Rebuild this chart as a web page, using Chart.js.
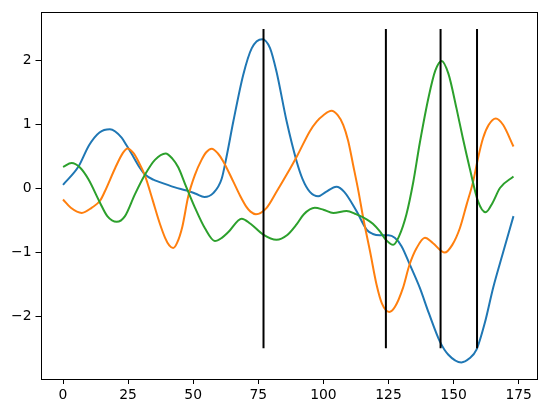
<!DOCTYPE html>
<html>
<head>
<meta charset="utf-8">
<script src="https://cdn.jsdelivr.net/npm/chart.js@4.4.1/dist/chart.umd.min.js"></script>
<style>
  html, body { margin: 0; padding: 0; background: #fff; }
  #wrap { width: 546px; height: 413px; }
</style>
</head>
<body>
<div id="wrap"><canvas id="c" width="546" height="413"></canvas></div>
<script>
// series as [x, y]
const BLUE = [
  [0, 0.06], [6, 0.35], [10, 0.68], [14, 0.88], [18, 0.93], [22.5, 0.8], [24.5, 0.67],
  [27, 0.5], [29.6, 0.32], [31.5, 0.22], [34.7, 0.14], [36.6, 0.11], [43, 0.02],
  [47.5, -0.03], [51, -0.08], [54.3, -0.13], [57.7, -0.07], [60.9, 0.15], [62.8, 0.5],
  [65.4, 1.05], [69.2, 1.78], [72.5, 2.2], [76.5, 2.34], [79.5, 2.2], [82, 1.83],
  [85.9, 1.05], [89.7, 0.43], [92, 0.15], [94.8, -0.05], [98, -0.12], [101, -0.05],
  [105, 0.03], [108, -0.05], [112.7, -0.35], [116.6, -0.64], [119, -0.71], [121.7, -0.73],
  [125, -0.73], [127.4, -0.77], [130, -0.9], [133.2, -1.19], [137, -1.55], [140.5, -1.95],
  [144.7, -2.39], [148, -2.6], [153, -2.72], [156, -2.66], [158.8, -2.52], [162, -2.1],
  [165.2, -1.55], [169, -1.0], [173, -0.43],
];
const ORANGE = [
  [0, -0.17], [3, -0.3], [7.2, -0.38], [11, -0.3], [14.2, -0.19], [16.1, -0.04], [20, 0.32],
  [23, 0.56], [24.8, 0.63], [27, 0.56], [28.9, 0.43], [31.5, 0.2], [33.4, -0.04],
  [35.3, -0.3], [37.2, -0.55], [39.2, -0.77], [40.8, -0.89], [42.3, -0.93], [43.8, -0.85],
  [45.8, -0.6], [48.1, -0.12], [50.7, 0.22], [53.2, 0.45], [55, 0.57], [57.1, 0.625],
  [59.5, 0.55], [61.5, 0.43], [65.4, 0.11], [68, -0.11], [70.5, -0.29], [72, -0.36],
  [74.1, -0.4], [78.2, -0.3], [82, -0.05], [85.9, 0.22], [90, 0.52], [94.8, 0.9], [97.4, 1.05],
  [100, 1.15], [103.1, 1.22], [105.5, 1.15], [107.6, 1.0], [109.5, 0.75], [111.4, 0.375],
  [113.5, -0.05], [115.3, -0.46], [118, -1.0], [120.4, -1.5], [122.5, -1.8], [125.3, -1.93],
  [127.5, -1.85], [130.6, -1.55], [133, -1.2], [135.8, -0.93], [139, -0.77], [142, -0.85],
  [146.6, -1.0], [149.5, -0.88], [152.4, -0.62], [155, -0.25], [157.5, 0.11], [159.5, 0.5],
  [161.3, 0.79], [163.5, 1.0], [166.2, 1.1], [169, 1.0], [173, 0.66],
];
const GREEN = [
  [0, 0.34], [3.3, 0.4], [6.5, 0.33], [9.7, 0.15], [14.2, -0.22], [17, -0.43], [20.6, -0.52],
  [23.8, -0.43], [27.6, -0.09], [31.5, 0.22], [35.3, 0.45], [39.4, 0.55], [42, 0.47],
  [44.3, 0.33], [46.8, 0.08], [50.7, -0.3], [54.5, -0.62], [58.3, -0.82], [61, -0.77],
  [63.5, -0.68], [68.6, -0.47], [72, -0.55], [76.9, -0.72], [82, -0.8], [86, -0.73],
  [89.7, -0.56], [92.5, -0.4], [96.7, -0.3], [100, -0.33], [103.8, -0.38], [108.9, -0.35],
  [112.5, -0.4], [116.6, -0.48], [119, -0.55], [121.7, -0.67], [124, -0.8], [126.8, -0.88],
  [129, -0.75], [131.9, -0.4], [134.5, 0.1], [137, 0.71], [140.5, 1.45], [143, 1.85],
  [145.4, 2.0], [148, 1.8], [151.1, 1.26], [153.5, 0.8], [156.2, 0.32], [159.4, -0.2],
  [162.3, -0.37], [165, -0.22], [167.8, 0.01], [173, 0.19],
];
const VLINE_X = [77, 124, 145, 159];
const VLINE_Y = [-2.5, 2.5];
const X_TICKS = [0, 25, 50, 75, 100, 125, 150, 175];
const Y_TICKS = [-2, -1, 0, 1, 2];

const pts = arr => arr.map(p => ({ x: p[0], y: p[1] }));

function curve(data, color, order) {
  return {
    data: pts(data), borderColor: color, borderWidth: 2, pointRadius: 0,
    cubicInterpolationMode: 'monotone', order,
  };
}

const vlines = VLINE_X.map(x => ({
  data: VLINE_Y.map(y => ({ x, y })), borderColor: '#000', borderWidth: 2,
  pointRadius: 0, order: 0,
}));

// matplotlib-style frame round the axes
const frame = {
  id: 'frame',
  afterDatasetsDraw(chart) {
    const a = chart.chartArea, ctx = chart.ctx;
    ctx.save();
    ctx.strokeStyle = '#000';
    ctx.lineWidth = 1;
    ctx.strokeRect(Math.round(a.left) + 0.5, Math.round(a.top) + 0.5,
      Math.round(a.right - a.left), Math.round(a.bottom - a.top));
    ctx.restore();
  },
};

const tickFont = { family: "'DejaVu Sans', sans-serif", size: 13.9 };
const axisGrid = { drawOnChartArea: false, tickLength: 5, tickColor: '#000', tickWidth: 1 };
const minus = v => String(v).replace('-', '\u2212');

new Chart(document.getElementById('c'), {
  type: 'line',
  data: {
    datasets: [
      curve(BLUE, '#1f77b4', 3),
      curve(ORANGE, '#ff7f0e', 2),
      curve(GREEN, '#2ca02c', 1),
      ...vlines,
    ],
  },
  options: {
    responsive: false, animation: false, events: [],
    layout: { padding: { top: 10, right: 10, left: 0, bottom: 0 } },
    plugins: { legend: { display: false }, tooltip: { enabled: false } },
    scales: {
      x: {
        type: 'linear', min: -8.65, max: 181.65,
        border: { display: false }, grid: axisGrid,
        ticks: { color: '#000', font: tickFont, padding: 3, maxRotation: 0, callback: minus },
        afterBuildTicks: s => { s.ticks = X_TICKS.map(v => ({ value: v })); },
        afterFit: s => { s.height = 34; },
      },
      y: {
        type: 'linear', min: -2.98, max: 2.76,
        border: { display: false }, grid: axisGrid,
        ticks: { color: '#000', font: tickFont, padding: 4, callback: minus },
        afterBuildTicks: s => { s.ticks = Y_TICKS.map(v => ({ value: v })); },
        afterFit: s => { s.width = 40.5; },
      },
    },
  },
  plugins: [frame],
});
</script>
</body>
</html>
